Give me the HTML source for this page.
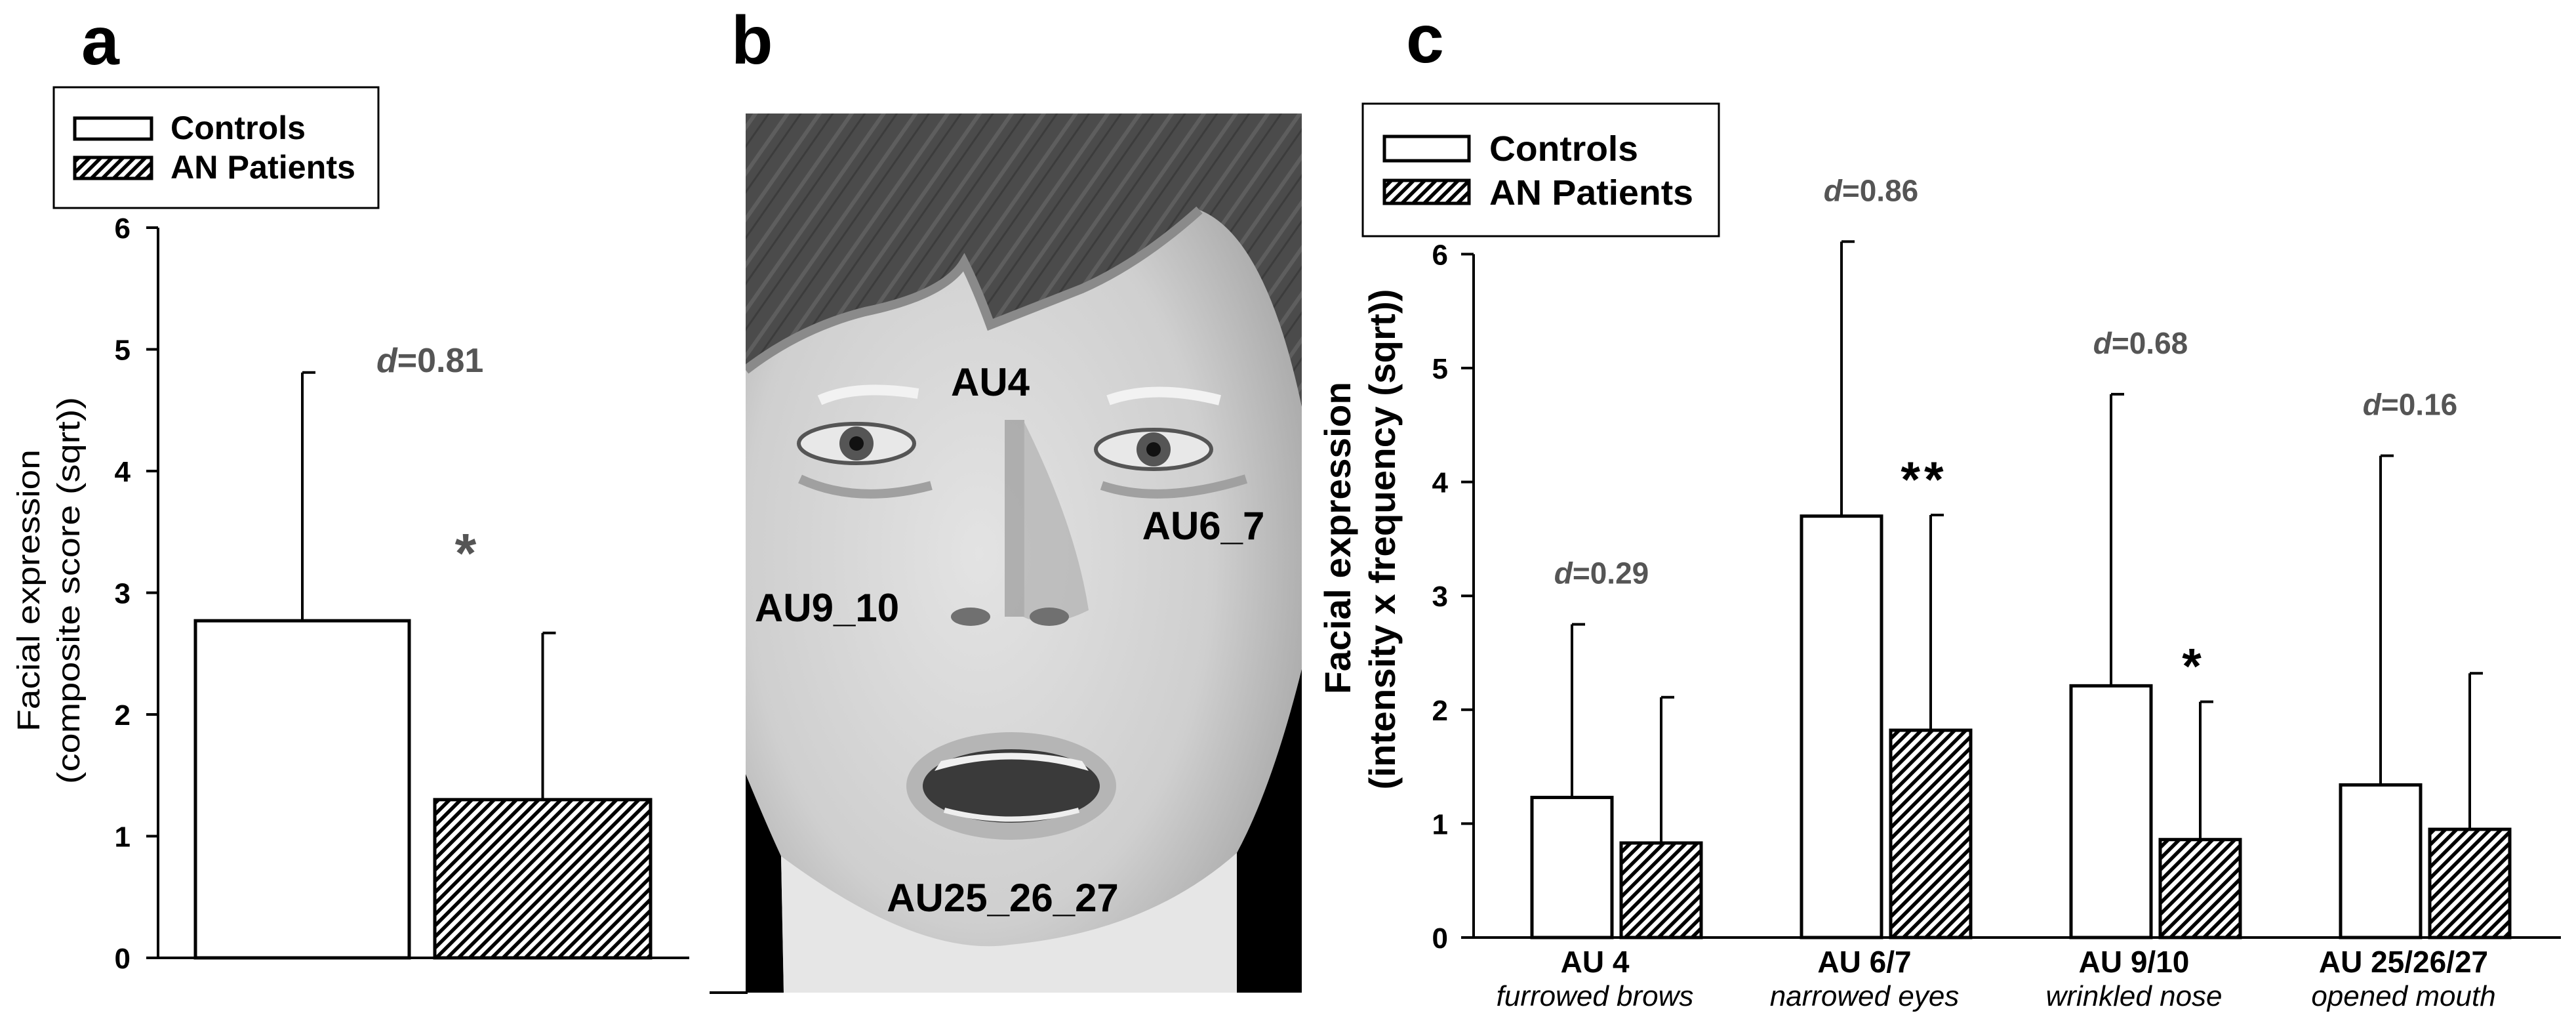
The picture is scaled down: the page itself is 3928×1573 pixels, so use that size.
<!DOCTYPE html>
<html><head><meta charset="utf-8">
<style>
html,body{margin:0;padding:0;background:#fff;}
svg{display:block;}
text{font-family:"Liberation Sans",Arial,sans-serif;}
</style></head>
<body>
<svg id="fig" width="3928" height="1573" viewBox="0 0 3928 1573" xmlns="http://www.w3.org/2000/svg">
<defs>
  <pattern id="hatch" patternUnits="userSpaceOnUse" width="12" height="12" patternTransform="rotate(45)">
    <rect width="12" height="12" fill="#fff"/>
    <rect x="0" y="0" width="5.5" height="12" fill="#000"/>
  </pattern>
  <pattern id="hairtex" patternUnits="userSpaceOnUse" width="40" height="40" patternTransform="rotate(35)">
    <rect width="40" height="40" fill="#4b4b4b"/>
    <rect x="0" y="0" width="6" height="40" fill="#5e5e5e"/>
    <rect x="18" y="0" width="3" height="40" fill="#3c3c3c"/>
  </pattern>
  <radialGradient id="skin" cx="0.42" cy="0.5" r="0.7">
    <stop offset="0" stop-color="#e3e3e3"/>
    <stop offset="0.6" stop-color="#cfcfcf"/>
    <stop offset="1" stop-color="#9a9a9a"/>
  </radialGradient>
  <clipPath id="faceclip"><rect x="1137" y="173" width="848" height="1340"/></clipPath>
</defs>

<!-- Panel letters -->
<text x="124" y="98" font-size="104" font-weight="bold">a</text>
<text x="1115" y="97" font-size="104" font-weight="bold">b</text>
<text x="2144" y="95" font-size="104" font-weight="bold">c</text>

<!-- Panel b face illustration -->
<g clip-path="url(#faceclip)">
  <rect x="1137" y="173" width="848" height="1340" fill="url(#skin)"/>
  <path d="M1137,1180 Q1170,1260 1191,1305 L1195,1513 L1137,1513 Z" fill="#000"/>
  <path d="M1985,1020 Q1940,1200 1886,1300 L1886,1513 L1985,1513 Z" fill="#000"/>
  <path d="M1191,1305 Q1400,1460 1540,1440 Q1750,1420 1886,1300 L1886,1513 L1195,1513 Z" fill="#e6e6e6"/>
  <path d="M1137,173 H1985 V620 Q1930,360 1829,320 Q1740,400 1650,440 L1510,495 Q1490,440 1470,400 Q1440,450 1319,475 Q1220,500 1137,564 Z" fill="url(#hairtex)"/>
  <path d="M1137,564 Q1220,500 1319,475 Q1440,450 1470,400 Q1490,440 1510,495 L1650,440 Q1740,400 1829,320" fill="none" stroke="#8a8a8a" stroke-width="14"/>
  <rect x="1532" y="640" width="30" height="300" fill="#9a9a9a" opacity="0.7"/>
  <path d="M1560,640 Q1640,800 1660,930 Q1600,960 1560,940 Z" fill="#b0b0b0" opacity="0.7"/>
  <ellipse cx="1480" cy="940" rx="30" ry="14" fill="#707070"/>
  <ellipse cx="1600" cy="940" rx="30" ry="14" fill="#707070"/>
  <path d="M1220,730 Q1306,770 1420,740" fill="none" stroke="#a0a0a0" stroke-width="14"/>
  <path d="M1680,740 Q1770,770 1900,730" fill="none" stroke="#a0a0a0" stroke-width="14"/>
  <ellipse cx="1306" cy="676" rx="88" ry="30" fill="#e8e8e8" stroke="#555" stroke-width="6"/>
  <circle cx="1306" cy="676" r="26" fill="#555"/>
  <circle cx="1306" cy="676" r="11" fill="#111"/>
  <ellipse cx="1759" cy="685" rx="88" ry="30" fill="#e8e8e8" stroke="#555" stroke-width="6"/>
  <circle cx="1759" cy="685" r="26" fill="#555"/>
  <circle cx="1759" cy="685" r="11" fill="#111"/>
  <path d="M1250,610 Q1306,585 1400,600" fill="none" stroke="#f2f2f2" stroke-width="16"/>
  <path d="M1690,610 Q1760,585 1860,610" fill="none" stroke="#f2f2f2" stroke-width="16"/>
  <ellipse cx="1542" cy="1198" rx="160" ry="82" fill="#b5b5b5"/>
  <ellipse cx="1542" cy="1198" rx="135" ry="56" fill="#3a3a3a"/>
  <path d="M1425,1175 Q1542,1140 1660,1175 L1650,1160 Q1542,1135 1435,1160 Z" fill="#f0f0f0"/>
  <path d="M1440,1235 Q1542,1262 1645,1235" fill="none" stroke="#eee" stroke-width="8"/>
</g>
<line x1="1082" y1="1513" x2="1140" y2="1513" stroke="#000" stroke-width="4"/>
<g font-weight="bold" font-size="60" fill="#000">
  <text x="1510" y="603" text-anchor="middle">AU4</text>
  <text x="1835" y="822" text-anchor="middle">AU6_7</text>
  <text x="1261" y="947" text-anchor="middle">AU9_10</text>
  <text x="1529" y="1389" text-anchor="middle">AU25_26_27</text>
</g>

<g id="panelA"></g>
<g id="panelC"></g>
</svg>

<script>
// ---------- Panel a data ----------
const aGroups = ["Controls", "AN Patients"];
const aMeans = [2.77, 1.30];
const aErrTop = [4.81, 2.67];
const aTicks = [0, 1, 2, 3, 4, 5, 6];

// ---------- Panel c data ----------
const cCategories = ["AU 4", "AU 6/7", "AU 9/10", "AU 25/26/27"];
const cSubLabels = ["furrowed brows", "narrowed eyes", "wrinkled nose", "opened mouth"];
const cControls = [1.23, 3.70, 2.21, 1.34];
const cControlsErr = [2.75, 6.11, 4.77, 4.23];
const cPatients = [0.83, 1.82, 0.86, 0.95];
const cPatientsErr = [2.11, 3.71, 2.07, 2.32];
const cEffect = ["0.29", "0.86", "0.68", "0.16"];
const cSig = ["", "**", "*", ""];
const cTicks = [0, 1, 2, 3, 4, 5, 6];

const NS = "http://www.w3.org/2000/svg";
function mk(tag, attrs, parent) {
  const e = document.createElementNS(NS, tag);
  for (const k in attrs) e.setAttribute(k, attrs[k]);
  parent.appendChild(e);
  return e;
}

// ===== Panel a =====
(function () {
  const g = document.getElementById("panelA");
  const y0 = 1460, unit = 185.5, ax = 241;
  const yA = v => y0 - v * unit;
  const barX = [298, 663], barW = [326, 329];

  // legend
  const lg = mk("g", {}, g);
  
  
  mk("rect", {x: 82, y: 133, width: 495, height: 184, fill: "#fff", stroke: "#000", "stroke-width": 3}, lg);
  const s1 = mk("rect", {x: 114, y: 180, width: 117, height: 32, fill: "#fff", stroke: "#000", "stroke-width": 5}, lg);
  
  
  const s2 = mk("rect", {x: 114, y: 240, width: 117, height: 32, fill: "url(#hatch)", stroke: "#000", "stroke-width": 5}, lg);
  
  
  const t1 = mk("text", {x: 260, y: 212, "font-size": 50, "font-weight": "bold", textLength: 206, lengthAdjust: "spacingAndGlyphs"}, lg);
  t1.textContent = aGroups[0];
  
  
  const t2 = mk("text", {x: 260, y: 272, "font-size": 50, "font-weight": "bold", textLength: 282, lengthAdjust: "spacingAndGlyphs"}, lg);
  t2.textContent = aGroups[1];
  
  

  // bars + error bars
  aMeans.forEach((v, i) => {
    const cx = barX[i] + barW[i] / 2;
    const el = mk("line", {x1: cx, x2: cx, y1: yA(v), y2: yA(aErrTop[i]), stroke: "#000", "stroke-width": 4}, g);
    
    
    const cap = mk("line", {x1: cx, x2: cx + 20, y1: yA(aErrTop[i]), y2: yA(aErrTop[i]), stroke: "#000", "stroke-width": 4}, g);
    
    
    const b = mk("rect", {x: barX[i], y: yA(v), width: barW[i], height: y0 - yA(v), fill: i === 0 ? "#fff" : "url(#hatch)", stroke: "#000", "stroke-width": 5}, g);
    
    
  });

  // axes
  const axl = mk("line", {x1: ax, x2: ax, y1: yA(6), y2: y0, stroke: "#000", "stroke-width": 4}, g);
  
  
  const xl = mk("line", {x1: 223, x2: 1051, y1: y0, y2: y0, stroke: "#000", "stroke-width": 4}, g);
  
  
  aTicks.forEach(t => {
    const tk = mk("line", {x1: 223, x2: ax, y1: yA(t), y2: yA(t), stroke: "#000", "stroke-width": 4}, g);
    
    
    const tl = mk("text", {x: 199, y: yA(t) + 16, "font-size": 44, "font-weight": "bold", "text-anchor": "end"}, g);
    tl.textContent = t;
    
    
  });

  // y title
  const yt1 = mk("text", {transform: "translate(60,900) rotate(-90)", "font-size": 48, "text-anchor": "middle", textLength: 430, lengthAdjust: "spacingAndGlyphs"}, g);
  yt1.textContent = "Facial expression";
  
  
  const yt2 = mk("text", {transform: "translate(121,900) rotate(-90)", "font-size": 48, "text-anchor": "middle", textLength: 590, lengthAdjust: "spacingAndGlyphs"}, g);
  yt2.textContent = "(composite score (sqrt))";
  
  

  // effect size and significance
  const d = mk("text", {x: 574, y: 567, "font-size": 52, "font-weight": "bold", fill: "#555"}, g);
  d.innerHTML = '<tspan font-style="italic">d</tspan>=0.81';
  
  
  const st = mk("text", {x: 710, y: 872, "font-size": 84, "font-weight": "bold", fill: "#555", "text-anchor": "middle"}, g);
  st.textContent = "*";
  
  
})();

// ===== Panel c =====
(function () {
  const g = document.getElementById("panelC");
  const y0 = 1429, unit = 173.6, ax = 2247;
  const yC = v => y0 - v * unit;
  const firstX = 2336, step = 411, bw = 122, gap = 14;
  const xCtrl = i => firstX + i * step;
  const xPat = i => firstX + i * step + bw + gap;

  // legend
  const lg = mk("g", {}, g);
  
  
  mk("rect", {x: 2078, y: 158, width: 543, height: 202, fill: "#fff", stroke: "#000", "stroke-width": 3}, lg);
  const s1 = mk("rect", {x: 2111, y: 208, width: 129, height: 37, fill: "#fff", stroke: "#000", "stroke-width": 5}, lg);
  
  
  const s2 = mk("rect", {x: 2111, y: 275, width: 129, height: 35, fill: "url(#hatch)", stroke: "#000", "stroke-width": 5}, lg);
  
  
  const t1 = mk("text", {x: 2271, y: 245, "font-size": 54, "font-weight": "bold", textLength: 227, lengthAdjust: "spacingAndGlyphs"}, lg);
  t1.textContent = "Controls";
  
  
  const t2 = mk("text", {x: 2271, y: 312, "font-size": 54, "font-weight": "bold", textLength: 311, lengthAdjust: "spacingAndGlyphs"}, lg);
  t2.textContent = "AN Patients";
  
  

  function bar(x, v, err, hatched, name) {
    const cx = x + bw / 2;
    const el = mk("line", {x1: cx, x2: cx, y1: yC(v), y2: yC(err), stroke: "#000", "stroke-width": 4}, g);
    
    
    const cap = mk("line", {x1: cx, x2: cx + 20, y1: yC(err), y2: yC(err), stroke: "#000", "stroke-width": 4}, g);
    
    
    const b = mk("rect", {x: x, y: yC(v), width: bw, height: y0 - yC(v), fill: hatched ? "url(#hatch)" : "#fff", stroke: "#000", "stroke-width": 5}, g);
    
    
  }

  cCategories.forEach((c, i) => {
    bar(xCtrl(i), cControls[i], cControlsErr[i], false, 'controls-' + i);
    bar(xPat(i), cPatients[i], cPatientsErr[i], true, 'patients-' + i);
    const gc = (xCtrl(i) + xPat(i) + bw) / 2;
    const l1 = mk("text", {x: gc - 33, y: 1482, "font-size": 46, "font-weight": "bold", "text-anchor": "middle"}, g);
    l1.textContent = c;
    
    
    const l2 = mk("text", {x: gc - 33, y: 1533, "font-size": 44, "font-style": "italic", "text-anchor": "middle"}, g);
    l2.textContent = cSubLabels[i];
    
    
    // effect size above control error bar
    const d = mk("text", {x: xCtrl(i) + bw / 2 + 45, y: yC(cControlsErr[i]) - 62, "font-size": 46, "font-weight": "bold", fill: "#555", "text-anchor": "middle"}, g);
    d.innerHTML = '<tspan font-style="italic">d</tspan>=' + cEffect[i];
    
    
    if (cSig[i]) {
      const s = mk("text", {x: xPat(i) + bw / 2 - 10, y: yC(cPatientsErr[i]) - 28, "font-size": 76, "font-weight": "bold", "text-anchor": "middle", "letter-spacing": 6}, g);
      s.textContent = cSig[i];
      
      
    }
  });

  // axes
  const axl = mk("line", {x1: ax, x2: ax, y1: yC(6), y2: y0, stroke: "#000", "stroke-width": 4}, g);
  
  
  const xl = mk("line", {x1: 2228, x2: 3905, y1: y0, y2: y0, stroke: "#000", "stroke-width": 4}, g);
  
  
  cTicks.forEach(t => {
    const tk = mk("line", {x1: 2228, x2: ax, y1: yC(t), y2: yC(t), stroke: "#000", "stroke-width": 4}, g);
    
    
    const tl = mk("text", {x: 2208, y: yC(t) + 16, "font-size": 44, "font-weight": "bold", "text-anchor": "end"}, g);
    tl.textContent = t;
    
    
  });

  const yt1 = mk("text", {transform: "translate(2059,820) rotate(-90)", "font-size": 56, "font-weight": "bold", "text-anchor": "middle", textLength: 476, lengthAdjust: "spacingAndGlyphs"}, g);
  yt1.textContent = "Facial expression";
  
  
  const yt2 = mk("text", {transform: "translate(2127,822) rotate(-90)", "font-size": 56, "font-weight": "bold", "text-anchor": "middle", textLength: 763, lengthAdjust: "spacingAndGlyphs"}, g);
  yt2.textContent = "(intensity x frequency (sqrt))";
  
  
})();
</script>
</body></html>
